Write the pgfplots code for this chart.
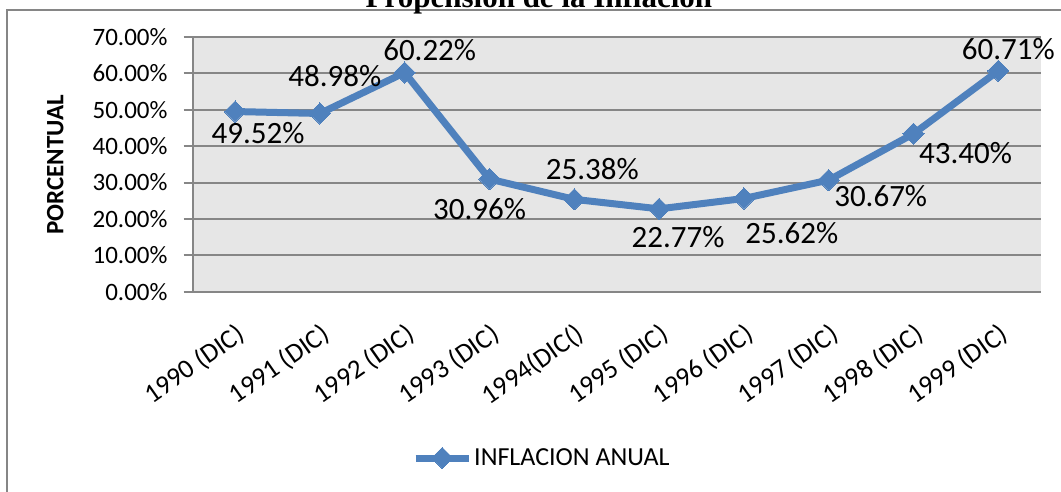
\documentclass[border=0pt]{standalone}
\usepackage{fontspec}
\setmainfont{Carlito}
\newfontfamily\titlefont{Liberation Serif}
\usepackage{pgfplots}
\pgfplotsset{compat=1.18}
\usepackage{pgfplotstable}

\definecolor{excelblue}{RGB}{79,129,189}
\definecolor{gridgray}{RGB}{134,134,134}
\definecolor{plotbg}{RGB}{230,230,230}

% x, value, label offset (dx, dy) in pt
\pgfplotstableread{
x  y      dx   dy
0  49.52  23  -22
1  48.98  15   37
2  60.22  25   23
3  30.96  -10 -30
4  25.38  18   30
5  22.77  19  -28
6  25.62  48  -35
7  30.67  52  -16
8  43.40  52  -19
9  60.71  10   22
}\inflacion

\begin{document}
\begin{tikzpicture}[x=1pt,y=1pt]
% outer chart frame (left and top edges)
\draw[gridgray, line width=2pt] (7,-5) -- (7,481) -- (1070,481);
% title, cut by the page top as in the original
\node[anchor=base, font=\titlefont\bfseries\fontsize{31}{36}\selectfont] at (539,483) {Propensión de la Inflación};

\begin{axis}[
    at={(192.7pt,199.3pt)}, anchor=south west,
    scale only axis,
    width=848pt, height=254.7pt,
    xmin=-0.5, xmax=9.5,
    ymin=0, ymax=70,
    axis background/.style={fill=plotbg},
    axis x line*=bottom, axis y line*=left,
    axis line style={draw=gridgray, line width=2pt},
    ymajorgrids,
    grid style={draw=gridgray, line width=2pt},
    ytick={0,10,...,70},
    xtick={0,...,9},
    xticklabels={1990 (DIC),1991 (DIC),1992 (DIC),1993 (DIC),1994(DIC(),1995 (DIC),1996 (DIC),1997 (DIC),1998 (DIC),1999 (DIC)},
    xtick style={draw=none},
    ytick style={draw=gridgray, line width=2pt},
    tick align=outside,
    major tick length=9pt,
    /pgf/number format/assume math mode=true,
    yticklabel={\pgfmathprintnumber[fixed,fixed zerofill,precision=2]{\tick}\%},
    yticklabel style={font=\fontsize{25}{30}\selectfont, anchor=east, inner sep=0pt, xshift=-16pt},
    xticklabel style={font=\fontsize{27}{32}\selectfont, xshift=0pt, yshift=-21pt, anchor=north east, rotate=35, inner sep=0pt},
    ylabel={PORCENTUAL},
    ylabel style={font=\bfseries\fontsize{25}{30}\selectfont, at={(axis description cs:-0.162,0.497)}, anchor=center},
    clip=false,
    legend style={at={(0.2586,-0.653)}, anchor=west, draw=none, fill=none,
        font=\fontsize{26}{30}\selectfont, inner sep=0pt},
    legend image code/.code={\draw[mark repeat=2,mark phase=2,#1] plot coordinates {(0pt,0pt) (26.5pt,0pt) (53pt,0pt)};},
]
\addplot[excelblue, line width=7pt, mark=square*, mark size=7.5pt,
    mark options={rotate=45, line width=0pt, fill=excelblue},
    point meta=explicit,
    nodes near coords={\pgfmathprintnumber[fixed,fixed zerofill,precision=2]{\pgfplotspointmeta}\%},
    visualization depends on={\thisrow{dx} \as \dx},
    visualization depends on={\thisrow{dy} \as \dy},
    nodes near coords style={font=\fontsize{31}{36}\selectfont, text=black, anchor=center,
        xshift=\dx pt, yshift=\dy pt},
] table[x=x, y=y, meta=y] {\inflacion};
\addlegendentry{INFLACION ANUAL}
\end{axis}

\pgfresetboundingbox
\path[use as bounding box] (0,0) rectangle (1061,491);
\end{tikzpicture}
\end{document}
